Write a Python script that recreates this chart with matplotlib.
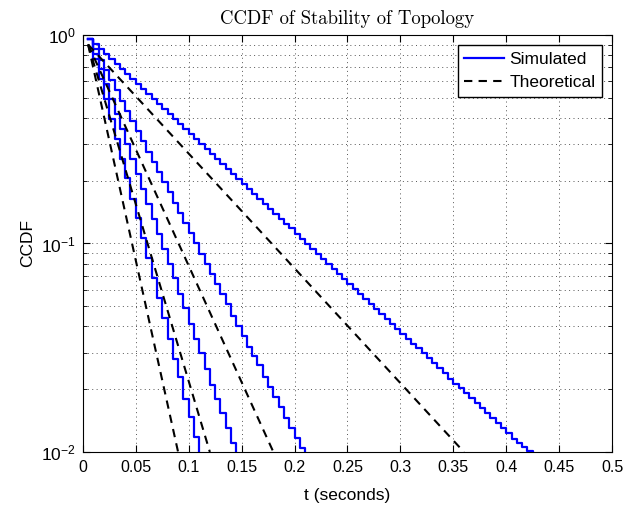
import numpy as np
import matplotlib
matplotlib.use("Agg")
from matplotlib import pyplot as plt
from matplotlib.ticker import LogLocator, NullFormatter

plt.rcParams['font.family'] = ['Liberation Sans', 'DejaVu Sans']
plt.rcParams['mathtext.fontset'] = 'custom'
plt.rcParams['mathtext.rm'] = 'Liberation Sans'
plt.rcParams['mathtext.it'] = 'Liberation Sans:italic'

# simulated CCDF, stairs, sampled every 0.005 s starting at 0.005 s
sim1 = [0.955, 0.766, 0.615, 0.494, 0.396, 0.318, 0.255, 0.205, 0.164, 0.132,
        0.106, 0.085, 0.068, 0.055, 0.044, 0.035, 0.028, 0.023, 0.018, 0.0147,
        0.0118, 0.0095]
sim2 = [0.955, 0.809, 0.686, 0.581, 0.493, 0.418, 0.354, 0.300, 0.254, 0.215,
        0.183, 0.155, 0.131, 0.111, 0.094, 0.080, 0.068, 0.057, 0.049, 0.041,
        0.035, 0.030, 0.025, 0.021, 0.018, 0.0153, 0.0130, 0.0110, 0.0093]
sim3 = [0.955, 0.853, 0.762, 0.681, 0.608, 0.543, 0.485, 0.433, 0.387, 0.346,
        0.309, 0.276, 0.246, 0.220, 0.197, 0.176, 0.157, 0.140, 0.125, 0.112,
        0.100, 0.089, 0.080, 0.071, 0.064, 0.057, 0.051, 0.045, 0.040, 0.036,
        0.032, 0.029, 0.026, 0.023, 0.0205, 0.0183, 0.0164, 0.0146, 0.0131, 0.0117,
        0.0104, 0.0093]
sim4 = [0.955, 0.904, 0.855, 0.810, 0.766, 0.725, 0.686, 0.649, 0.615, 0.582,
        0.550, 0.521, 0.493, 0.467, 0.442, 0.418, 0.396, 0.374, 0.354, 0.335,
        0.317, 0.300, 0.284, 0.269, 0.254, 0.241, 0.228, 0.216, 0.204, 0.193,
        0.183, 0.173, 0.164, 0.155, 0.147, 0.139, 0.131, 0.124, 0.118, 0.111,
        0.105, 0.0997, 0.0944, 0.0893, 0.0846, 0.0800, 0.0757, 0.0717, 0.0678, 0.0642,
        0.0607, 0.0575, 0.0544, 0.0515, 0.0487, 0.0461, 0.0436, 0.0413, 0.0391, 0.0370,
        0.0350, 0.0331, 0.0314, 0.0297, 0.0281, 0.0266, 0.0252, 0.0238, 0.0225, 0.0213,
        0.0202, 0.0191, 0.0181, 0.0171, 0.0162, 0.0153, 0.0145, 0.0137, 0.0130, 0.0123,
        0.0116, 0.0110, 0.0106, 0.0101, 0.0093]
dt = 0.005

# theoretical CCDF (exponential -> straight on log axis), start / end points
theo_t = [[0.005, 0.09], [0.005, 0.12], [0.005, 0.18], [0.005, 0.36]]
theo_y = [[0.9, 0.01], [0.9, 0.01], [0.9, 0.01], [0.9, 0.01]]

xticks = [0, 0.05, 0.1, 0.15, 0.2, 0.25, 0.3, 0.35, 0.4, 0.45, 0.5]
xlabels = ['0', '0.05', '0.1', '0.15', '0.2', '0.25', '0.3', '0.35', '0.4', '0.45', '0.5']

fig = plt.figure(figsize=(6.37, 5.07), dpi=100)
ax = fig.add_axes([0.130, 0.1085, 0.831, 0.8225])

for i, s in enumerate([sim1, sim2, sim3, sim4]):
    t = dt * (np.arange(len(s)) + 1)
    ax.step(t, s, where='post', color='#0000ff', lw=1.6,
            label='Simulated' if i == 0 else None, zorder=3)
for i in range(len(theo_t)):
    ax.plot(theo_t[i], theo_y[i], 'k--', lw=1.5, dashes=(4, 3),
            label='Theoretical' if i == 0 else None, zorder=3)

ax.set_yscale('log')
ax.set_xlim(0, 0.5)
ax.set_ylim(1e-2, 1)
ax.set_xticks(xticks)
ax.set_xticklabels(xlabels)
ax.yaxis.set_major_locator(LogLocator(base=10, numticks=5))
ax.yaxis.set_minor_locator(LogLocator(base=10, subs=np.arange(2, 10), numticks=20))
ax.yaxis.set_minor_formatter(NullFormatter())

grid_kw = dict(ls=(0, (1, 3.5)), color='#555555', lw=0.7)
ax.grid(True, which='major', **grid_kw)
ax.grid(True, which='minor', axis='y', **grid_kw)
ax.tick_params(which='both', direction='in', top=True, right=True)
ax.tick_params(axis='x', labelsize=11.5, pad=6)
ax.tick_params(axis='y', labelsize=12.5, pad=5)
ax.tick_params(which='major', length=5, width=0.8)
ax.tick_params(which='minor', length=3, width=0.6)
for sp in ax.spines.values():
    sp.set_linewidth(0.8)

ax.set_xlabel('t (seconds)', fontsize=12.5, labelpad=9)
ax.set_ylabel('CCDF', fontsize=12.5, labelpad=4)
ax.set_title('CCDF of Stability of Topology', family='cmr10', fontsize=13.5, pad=8)

leg = ax.legend(loc='upper right', fontsize=12.5, fancybox=False, framealpha=1,
                edgecolor='black', handlelength=2.3, handletextpad=0.3,
                borderpad=0.35, labelspacing=0.5, borderaxespad=0.6)
leg.get_frame().set_linewidth(1.0)

fig.savefig('out.png', dpi=100)
